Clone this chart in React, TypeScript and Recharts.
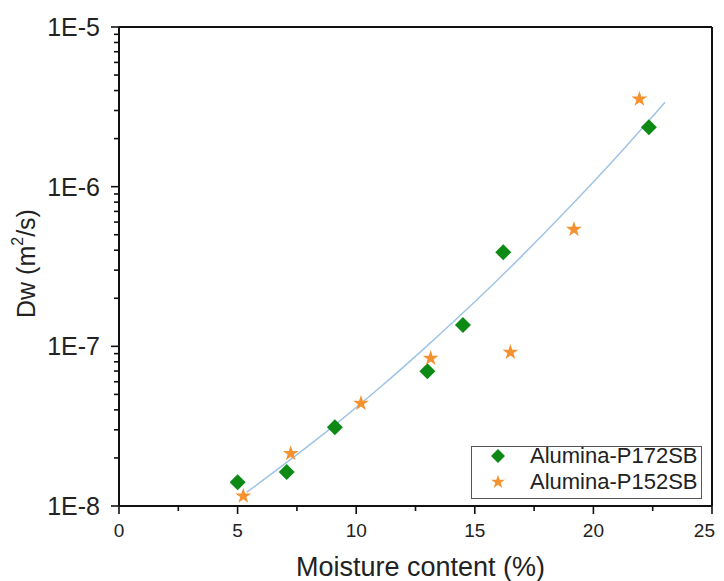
import React from "react";
import {
  ComposedChart,
  Scatter,
  Line,
  XAxis,
  YAxis,
  ReferenceLine,
  Symbols,
} from "recharts";

// ─── Data ─────────────────────────────────────────────────────────────────────

const P172_X = [5.0, 7.07, 9.1, 13.0, 14.5, 16.2, 22.34];
const P172_Y = [1.41e-8, 1.63e-8, 3.11e-8, 6.97e-8, 1.36e-7, 3.88e-7, 2.36e-6];

const P152_X = [5.24, 7.24, 10.2, 13.14, 16.5, 19.18, 21.94];
const P152_Y = [1.155e-8, 2.13e-8, 4.4e-8, 8.41e-8, 9.17e-8, 5.4e-7, 3.54e-6];

// trend line
const FIT_X = [5.39, 7, 9, 11, 13, 15, 17, 19, 21, 23.02];
const FIT_Y = [1.22e-8, 1.84e-8, 3.13e-8, 5.52e-8, 1.01e-7, 1.9e-7, 3.7e-7, 7.45e-7, 1.55e-6, 3.38e-6];

const X_MAJOR = [0, 5, 10, 15, 20, 25];
const X_MINOR = [2.5, 7.5, 12.5, 17.5, 22.5];

const Y_MAJOR = [1e-8, 1e-7, 1e-6, 1e-5];
const Y_LABELS = ["1E-8", "1E-7", "1E-6", "1E-5"];
const Y_MINOR = [
  2e-8, 3e-8, 4e-8, 5e-8, 6e-8, 7e-8, 8e-8, 9e-8,
  2e-7, 3e-7, 4e-7, 5e-7, 6e-7, 7e-7, 8e-7, 9e-7,
  2e-6, 3e-6, 4e-6, 5e-6, 6e-6, 7e-6, 8e-6, 9e-6,
];

const SERIES_NAMES = ["Alumina-P172SB", "Alumina-P152SB"];

const GREEN = "#0c8a14";
const ORANGE = "#f5922f";
const FIT_COLOR = "#9fc4e6";
const FONT = "'Liberation Sans', Arial, sans-serif";

const p172 = P172_X.map((x, i) => ({ x, y: P172_Y[i] }));
const p152 = P152_X.map((x, i) => ({ x, y: P152_Y[i] }));
const fit = FIT_X.map((x, i) => ({ x, y: FIT_Y[i] }));

// ─── Custom ticks (major + minor) ─────────────────────────────────────────────

const XTick = (props: any) => {
  const { x, y, payload } = props;
  const major = X_MAJOR.includes(payload.value);
  const last = payload.value === X_MAJOR[X_MAJOR.length - 1];
  return (
    <g>
      <line x1={x} x2={x} y1={y} y2={y + (major ? 8 : 5)} stroke="#111" strokeWidth={1.6} />
      {major && (
        <text
          x={last ? x + 3 : x}
          y={y + 31}
          textAnchor={last ? "end" : "middle"}
          fontSize={19}
          fill="#222"
          fontFamily={FONT}
        >
          {payload.value}
        </text>
      )}
    </g>
  );
};

const YTick = (props: any) => {
  const { x, y, payload } = props;
  const idx = Y_MAJOR.indexOf(payload.value);
  const major = idx >= 0;
  return (
    <g>
      <line x1={x} x2={x - (major ? 8 : 5)} y1={y} y2={y} stroke="#111" strokeWidth={1.6} />
      {major && (
        <text x={x - 19} y={y + 9} textAnchor="end" fontSize={25} fill="#222" fontFamily={FONT}>
          {Y_LABELS[idx]}
        </text>
      )}
    </g>
  );
};

const Diamond = (props: any) => {
  const { cx, cy } = props;
  const r = 8;
  return (
    <path
      d={`M${cx},${cy - r}L${cx + r},${cy}L${cx},${cy + r}L${cx - r},${cy}Z`}
      fill={GREEN}
    />
  );
};

const Star = (props: any) => {
  const { cx, cy } = props;
  return <Symbols type="star" size={78} cx={cx} cy={cy} fill={ORANGE} />;
};

const XTitle = (props: any) => {
  const { viewBox } = props;
  return (
    <text
      x={viewBox.x + viewBox.width / 2 + 5}
      y={568}
      textAnchor="middle"
      fontSize={27}
      fill="#222"
      fontFamily={FONT}
    >
      Moisture content (%)
    </text>
  );
};

const YTitle = (props: any) => {
  const { viewBox } = props;
  const cx = 18;
  const cy = viewBox.y + viewBox.height / 2 - 3;
  return (
    <text
      x={cx}
      y={cy}
      transform={`rotate(-90, ${cx}, ${cy})`}
      textAnchor="middle"
      dominantBaseline="central"
      fontSize={25}
      fill="#222"
      fontFamily={FONT}
    >
      Dw (m
      <tspan fontSize={16} dy={-9}>2</tspan>
      <tspan dy={9}>/s)</tspan>
    </text>
  );
};

function LegendBox() {
  return (
    <div
      style={{
        position: "absolute",
        left: 463,
        top: 438,
        width: 229,
        height: 51,
        border: "1px solid #555",
        background: "#fff",
        fontFamily: FONT,
        fontSize: 22,
        color: "#222",
      }}
    >
      {SERIES_NAMES.map((name, i) => (
        <div
          key={name}
          style={{
            position: "absolute",
            left: 0,
            top: i === 0 ? -4 : 22,
            height: 26,
            display: "flex",
            alignItems: "center",
            whiteSpace: "nowrap",
          }}
        >
          <svg width={58} height={26}>
            {i === 0 ? (
              <path d="M26,6L33,13L26,20L19,13Z" fill={GREEN} />
            ) : (
              <Symbols type="star" size={60} cx={26} cy={13} fill={ORANGE} />
            )}
          </svg>
          <span>{name}</span>
        </div>
      ))}
    </div>
  );
}

export default function App() {
  return (
    <div style={{ position: "relative", width: 716, height: 573, background: "#fff" }}>
      <style>{"html{overflow:hidden}"}</style>
      <ComposedChart
        width={716}
        height={573}
        margin={{ top: 19, right: 12, left: 0, bottom: 0 }}
      >
        <XAxis
          dataKey="x"
          type="number"
          domain={[0, 25]}
          ticks={[...X_MAJOR, ...X_MINOR].sort((a, b) => a - b)}
          interval={0}
          tickSize={0}
          tickMargin={0}
          tick={<XTick />}
          tickLine={false}
          axisLine={{ stroke: "#111", strokeWidth: 2 }}
          height={75}
          allowDataOverflow
          label={<XTitle />}
        />
        <YAxis
          dataKey="y"
          type="number"
          scale="log"
          domain={[1e-8, 1e-5]}
          ticks={[...Y_MAJOR, ...Y_MINOR].sort((a, b) => a - b)}
          interval={0}
          tickSize={0}
          tickMargin={0}
          tick={<YTick />}
          tickLine={false}
          axisLine={{ stroke: "#111", strokeWidth: 2 }}
          width={111}
          allowDataOverflow
          label={<YTitle />}
        />
        <ReferenceLine y={1e-5} stroke="#111" strokeWidth={2} />
        <ReferenceLine x={25} stroke="#111" strokeWidth={2} />
        <Line
          data={fit}
          dataKey="y"
          type="monotone"
          stroke={FIT_COLOR}
          strokeWidth={1.5}
          dot={false}
          activeDot={false}
          isAnimationActive={false}
        />
        <Scatter data={p172} dataKey="y" shape={<Diamond />} isAnimationActive={false} />
        <Scatter data={p152} dataKey="y" shape={<Star />} isAnimationActive={false} />
      </ComposedChart>
      <LegendBox />
    </div>
  );
}
